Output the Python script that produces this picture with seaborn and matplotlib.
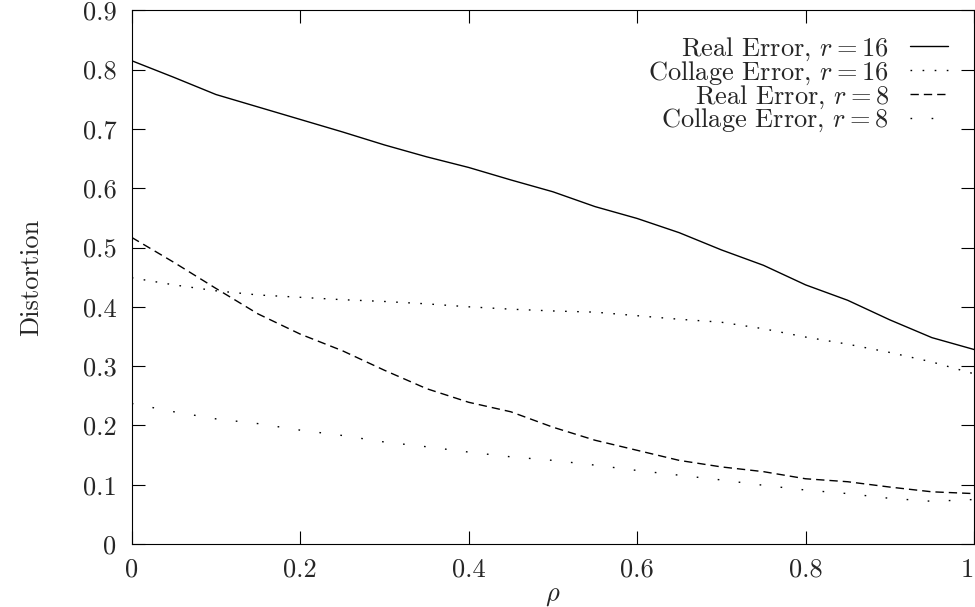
import numpy as np
import pandas as pd
import seaborn as sns
import matplotlib.pyplot as plt
from matplotlib.ticker import FuncFormatter, FixedLocator

# rho sampled every 0.05
rho = [0.0, 0.05, 0.1, 0.15, 0.2, 0.25, 0.3, 0.35, 0.4, 0.45, 0.5,
       0.55, 0.6, 0.65, 0.7, 0.75, 0.8, 0.85, 0.9, 0.95, 1.0]

real_r16 = [0.815, 0.787, 0.758, 0.737, 0.716, 0.695, 0.673, 0.653, 0.635, 0.614, 0.594,
            0.569, 0.549, 0.525, 0.496, 0.470, 0.437, 0.411, 0.378, 0.348, 0.328]
collage_r16 = [0.449, 0.437, 0.427, 0.420, 0.416, 0.412, 0.409, 0.405, 0.400, 0.396, 0.393,
               0.391, 0.385, 0.379, 0.374, 0.363, 0.349, 0.337, 0.323, 0.307, 0.287]
real_r8 = [0.517, 0.475, 0.431, 0.388, 0.354, 0.326, 0.293, 0.262, 0.239, 0.223, 0.197,
           0.175, 0.158, 0.141, 0.130, 0.122, 0.110, 0.105, 0.096, 0.088, 0.085]
collage_r8 = [0.237, 0.223, 0.211, 0.203, 0.192, 0.183, 0.172, 0.164, 0.155, 0.147, 0.141,
              0.133, 0.124, 0.116, 0.108, 0.099, 0.091, 0.085, 0.077, 0.072, 0.075]

x_ticks = [0, 0.2, 0.4, 0.6, 0.8, 1.0]
y_ticks = [0, 0.1, 0.2, 0.3, 0.4, 0.5, 0.6, 0.7, 0.8, 0.9]

labels = ['Real Error, $r = 16$', 'Collage Error, $r = 16$',
          'Real Error, $r = 8$', 'Collage Error, $r = 8$']
series = [real_r16, collage_r16, real_r8, collage_r8]

df = pd.concat([pd.DataFrame({'rho': rho, 'dist': s, 'series': lab})
                for lab, s in zip(labels, series)], ignore_index=True)

sns.set_style('ticks')
plt.rcParams['font.family'] = ['cmr10', 'DejaVu Serif']
plt.rcParams['mathtext.fontset'] = 'cm'
plt.rcParams['axes.formatter.use_mathtext'] = True
FS = 19

fig = plt.figure(figsize=(9.75, 6.07), dpi=100)
ax = fig.add_axes([0.1351, 0.1038, 0.8639, 0.8792])

dashes = {labels[0]: '', labels[1]: (1.2, 7.5), labels[2]: (6, 3.6), labels[3]: (1.2, 14)}
sns.lineplot(data=df, x='rho', y='dist', hue='series', style='series',
             palette=['black'] * 4, dashes=dashes, linewidth=1.0, legend=False, ax=ax)

ax.set_xlim(0, 1)
ax.set_ylim(0, 0.9)
ax.xaxis.set_major_locator(FixedLocator(x_ticks))
ax.yaxis.set_major_locator(FixedLocator(y_ticks))
fmt = FuncFormatter(lambda v, p: f'{v:g}')
ax.xaxis.set_major_formatter(fmt)
ax.yaxis.set_major_formatter(fmt)
ax.tick_params(direction='in', length=9.5, width=0.8, top=True, right=True,
               labelsize=FS, color='black')
ax.tick_params(axis='y', pad=11)
ax.tick_params(axis='x', pad=10)
for sp in ax.spines.values():
    sp.set_linewidth(0.8)
    sp.set_color('black')

ax.set_xlabel(r'$\rho$', fontsize=FS)
ax.set_ylabel('Distortion', fontsize=FS)
ax.xaxis.set_label_coords(0.5, -0.075)
ax.yaxis.set_label_coords(-0.105, 0.5)

leg = ax.legend(ax.get_lines(), labels, loc='upper right', bbox_to_anchor=(0.985, 0.978),
                markerfirst=False, frameon=False, fontsize=FS, borderpad=0,
                handlelength=1.44, handletextpad=0.8, labelspacing=-0.13)

fig.canvas.draw()
ax.get_xticklabels()[-1].set_horizontalalignment('right')

fig.savefig('out.png', dpi=100)
